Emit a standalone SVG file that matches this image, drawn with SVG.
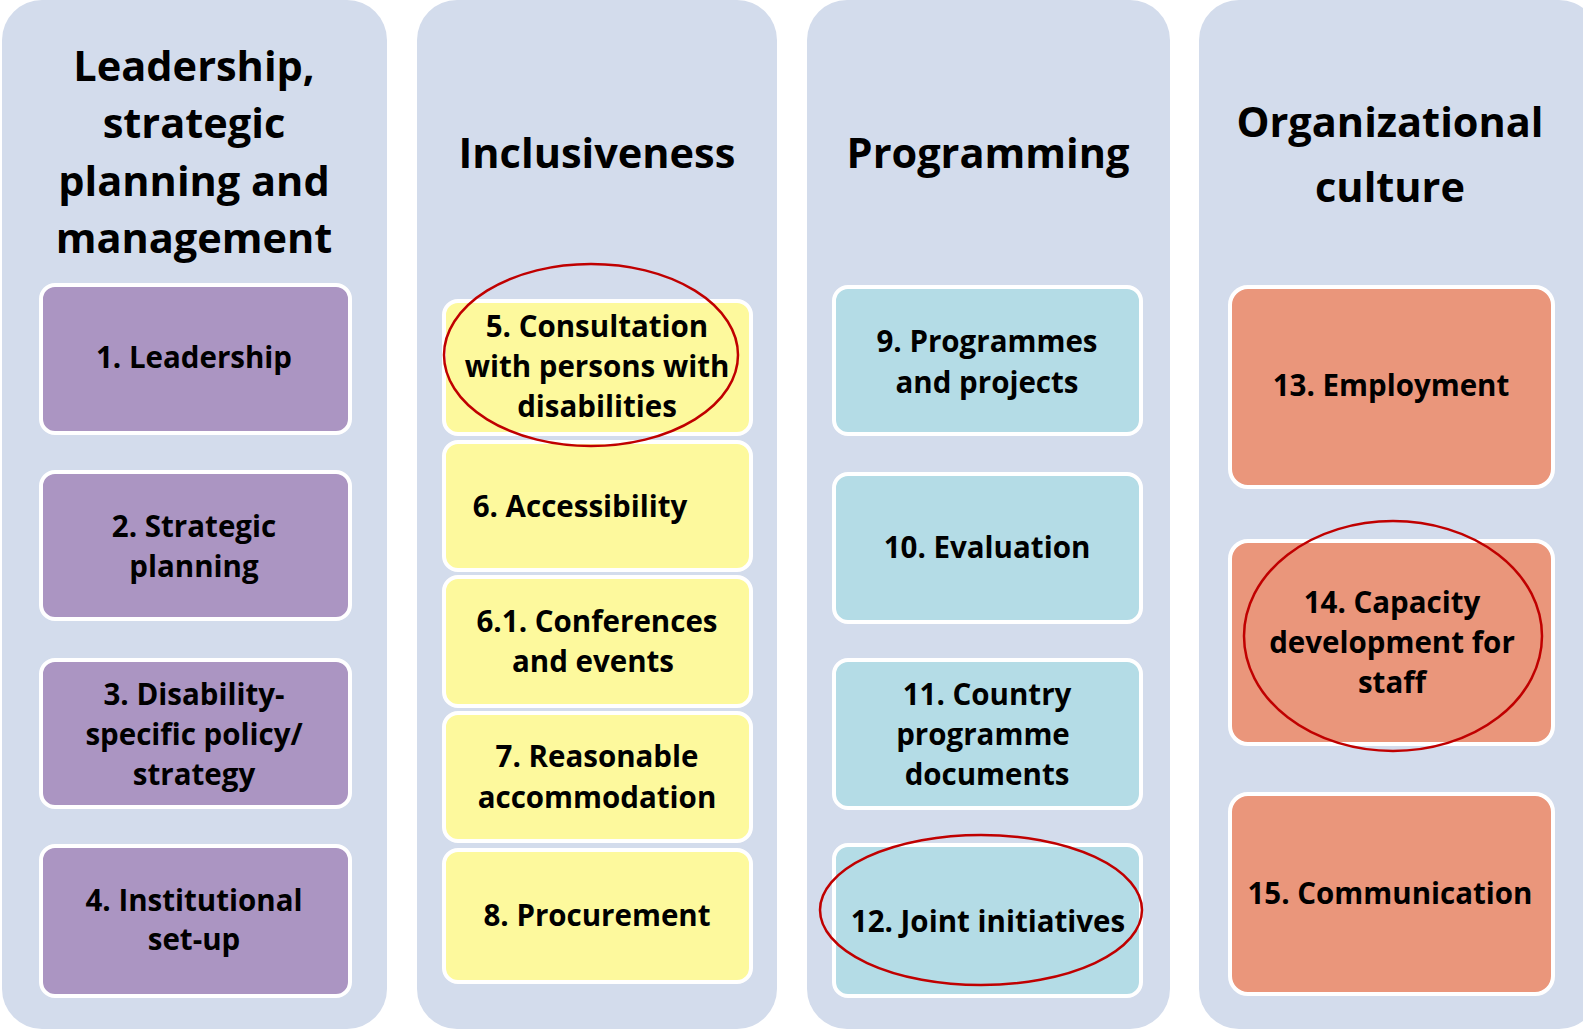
<svg xmlns="http://www.w3.org/2000/svg" width="1583" height="1029" viewBox="0 0 1583 1029">
<style>
.panel{fill:#D3DCEC}
.n{stroke:#FFFFFF;stroke-width:4}
.p{fill:#AB95C2}
.y{fill:#FDF99D}
.b{fill:#B4DCE6}
.o{fill:#EA967B}
text{font-family:"Open Sans","Liberation Sans",sans-serif;font-weight:bold;fill:#000;text-anchor:middle}
.h{font-size:41.5px}
.t{font-size:29.5px}
.e{fill:none;stroke:#C00000;stroke-width:2.5}
</style>
<rect width="1583" height="1029" fill="#FFFFFF"/>
<g id="col1">
<rect class="panel" x="2" y="0" width="385" height="1029" rx="40"/>
<text class="h" x="194" y="81">Leadership,</text>
<text class="h" x="194" y="138">strategic</text>
<text class="h" x="194" y="196">planning and</text>
<text class="h" x="194" y="253">management</text>
</g>
<g id="col2">
<rect class="panel" x="417" y="0" width="360" height="1029" rx="40"/>
<text class="h" x="597" y="168">Inclusiveness</text>
</g>
<g id="col3">
<rect class="panel" x="807" y="0" width="363" height="1029" rx="40"/>
<text class="h" x="988" y="168">Programming</text>
</g>
<g id="col4">
<rect class="panel" x="1199" y="0" width="400" height="1029" rx="40"/>
<text class="h" x="1390" y="137">Organizational</text>
<text class="h" x="1390" y="202">culture</text>
</g>
<g id="n1"><rect class="n p" x="41" y="285" width="309" height="148" rx="14"/><text class="t" x="194" y="368">1. Leadership</text></g>
<g id="n2"><rect class="n p" x="41" y="472" width="309" height="147" rx="14"/><text class="t" x="194" y="537">2. Strategic</text><text class="t" x="194" y="577">planning</text></g>
<g id="n3"><rect class="n p" x="41" y="660" width="309" height="147" rx="14"/><text class="t" x="194" y="705">3. Disability-</text><text class="t" x="194" y="745">specific policy/</text><text class="t" x="194" y="785">strategy</text></g>
<g id="n4"><rect class="n p" x="41" y="846" width="309" height="150" rx="14"/><text class="t" x="194" y="911">4. Institutional</text><text class="t" x="194" y="950">set-up</text></g>
<g id="n5"><rect class="n y" x="444" y="301" width="307" height="133" rx="14"/><text class="t" x="597" y="337">5. Consultation</text><text class="t" x="597" y="377">with persons with</text><text class="t" x="597" y="417">disabilities</text></g>
<g id="n6"><rect class="n y" x="444" y="442" width="307" height="128" rx="14"/><text class="t" x="580" y="517">6. Accessibility</text></g>
<g id="n61"><rect class="n y" x="444" y="577" width="307" height="129" rx="14"/><text class="t" x="597" y="632">6.1. Conferences</text><text class="t" x="593" y="672">and events</text></g>
<g id="n7"><rect class="n y" x="444" y="713" width="307" height="128" rx="14"/><text class="t" x="597" y="767">7. Reasonable</text><text class="t" x="597" y="808">accommodation</text></g>
<g id="n8"><rect class="n y" x="444" y="850" width="307" height="132" rx="14"/><text class="t" x="597" y="926">8. Procurement</text></g>
<g id="n9"><rect class="n b" x="834" y="287" width="307" height="147" rx="14"/><text class="t" x="987" y="352">9. Programmes</text><text class="t" x="987" y="393">and projects</text></g>
<g id="n10"><rect class="n b" x="834" y="474" width="307" height="148" rx="14"/><text class="t" x="987" y="558">10. Evaluation</text></g>
<g id="n11"><rect class="n b" x="834" y="660" width="307" height="148" rx="14"/><text class="t" x="987" y="705">11. Country</text><text class="t" x="983" y="745">programme</text><text class="t" x="987" y="785">documents</text></g>
<g id="n12"><rect class="n b" x="834" y="845" width="307" height="151" rx="14"/><text class="t" x="988" y="932">12. Joint initiatives</text></g>
<g id="n13"><rect class="n o" x="1230" y="287" width="323" height="200" rx="18"/><text class="t" x="1391" y="396">13. Employment</text></g>
<g id="n14"><rect class="n o" x="1230" y="541" width="323" height="203" rx="18"/><text class="t" x="1392" y="613">14. Capacity</text><text class="t" x="1392" y="653">development for</text><text class="t" x="1392" y="693">staff</text></g>
<g id="n15"><rect class="n o" x="1230" y="794" width="323" height="200" rx="18"/><text class="t" x="1390" y="904">15. Communication</text></g>
<g id="highlights">
<ellipse class="e" cx="591" cy="355" rx="147" ry="91"/>
<ellipse class="e" cx="981" cy="910" rx="161" ry="75"/>
<ellipse class="e" cx="1393" cy="636" rx="149" ry="115"/>
</g>
</svg>
